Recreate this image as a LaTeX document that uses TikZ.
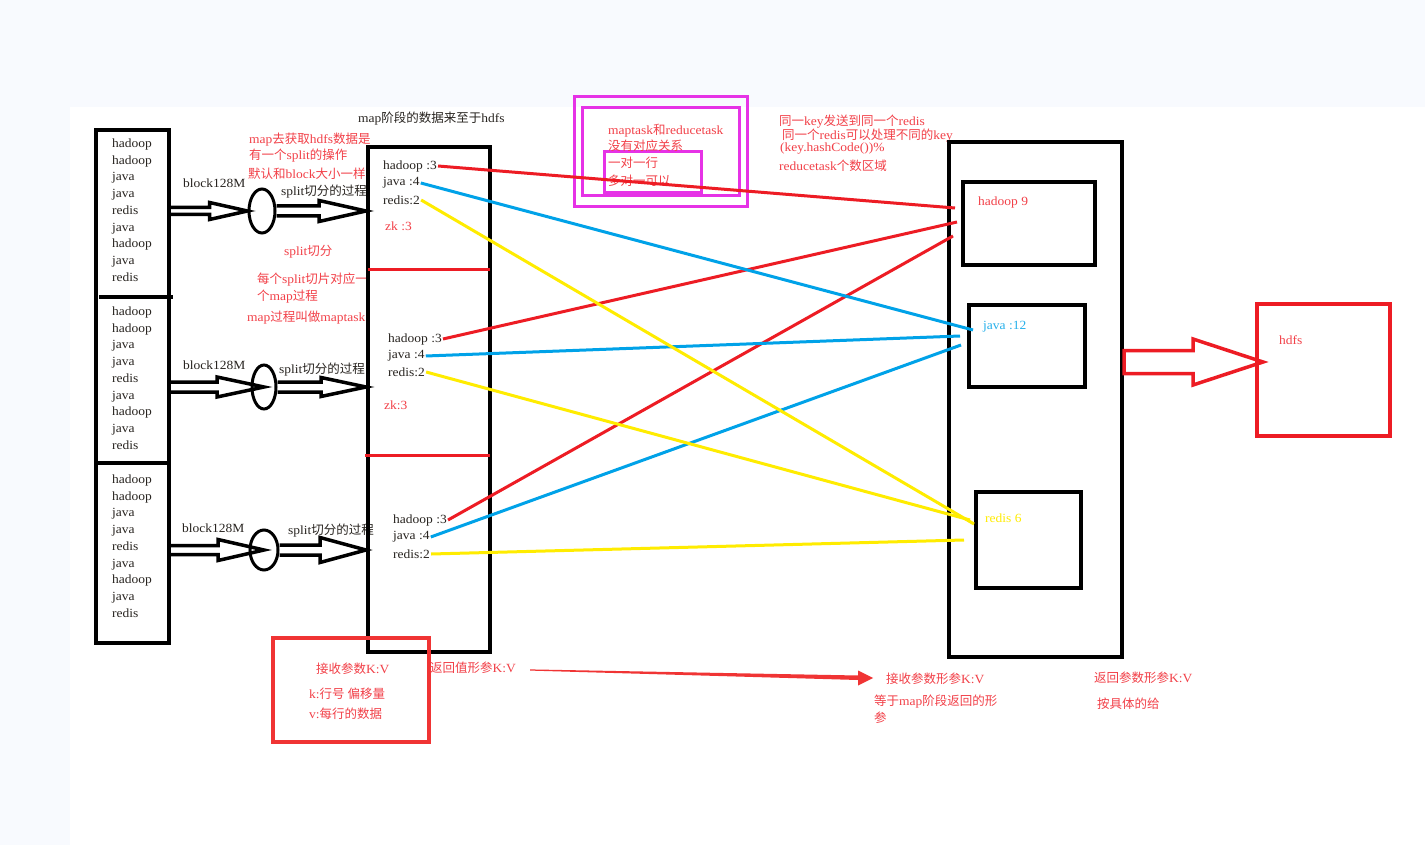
\documentclass[tikz,border=0pt]{standalone}
\usepackage{fontspec}
\setmainfont[FakeStretch=1.08]{Liberation Serif}
\newfontfamily\cjkfont{Noto Sans CJK SC}
\usetikzlibrary{calc,positioning,shapes.geometric}

% Han characters are set in the CJK family, the rest in the main font
\newXeTeXintercharclass\cjkclass
\newcount\cjkcode
\cjkcode="4E00
\loop
  \XeTeXcharclass\cjkcode=\cjkclass
  \ifnum\cjkcode<"9FFF
  \advance\cjkcode by 1
\repeat
\XeTeXinterchartoks 0 \cjkclass = {\cjkfont}
\XeTeXinterchartoks 4095 \cjkclass = {\cjkfont}
\XeTeXinterchartoks \cjkclass 0 = {\rmfamily}
\XeTeXinterchartokenstate=1

\definecolor{bgtint}{RGB}{248,250,254}
\definecolor{notered}{RGB}{242,64,72}
\definecolor{linered}{RGB}{237,28,36}
\definecolor{lineblue}{RGB}{0,162,232}
\definecolor{lineyellow}{RGB}{255,236,0}
\definecolor{boxpink}{RGB}{230,50,230}
\definecolor{wordgray}{RGB}{40,36,32}
\definecolor{framered}{RGB}{240,52,52}

% open block arrow: start, tip, shaft half width, head half width, head length
\newcommand{\hollowarrow}[6][black]{%
  \draw[blockline,draw=#1] let \p1=#2, \p2=#3 in
    (\x1,\y1+#4) -- (\x2-#6,\y1+#4) -- (\x2-#6,\y1+#5) -- (\x2,\y1)
    -- (\x2-#6,\y1-#5) -- (\x2-#6,\y1-#4) -- (\x1,\y1-#4);}

\begin{document}
\begin{tikzpicture}[x=1pt,y=-1pt,
  txt/.style={anchor=west,inner sep=1pt,align=left,
    font=\fontsize{12.5}{16.75}\selectfont,text=wordgray},
  note/.style={txt,text=notered},
  boxline/.style={draw=black,line width=4pt,inner sep=0pt},
  blockline/.style={line width=3.5pt,line join=miter},
  wire/.style={line width=3pt},
  splitbox/.style={ellipse,draw,line width=3pt,inner sep=0pt}]
  \useasboundingbox (0,0) rectangle (1425,845);

  % Canvas
  \fill[bgtint] (0,0) rectangle (1425,845);
  \fill[white] (70,107) rectangle (1425,845);

  % hdfs blocks
  \node[txt] (list1) at (111,210) {hadoop\\hadoop\\java\\java\\redis\\java\\hadoop\\java\\redis};
  \node[txt] (list2) at (111,378) {hadoop\\hadoop\\java\\java\\redis\\java\\hadoop\\java\\redis};
  \node[txt] (list3) at (111,546) {hadoop\\hadoop\\java\\java\\redis\\java\\hadoop\\java\\redis};
  \node[boxline,minimum width=73,minimum height=513] (blocks) at (132.5,386.5) {};
  \draw[line width=4pt] (99,297) -- (173,297);
  \draw[line width=4pt] (96,463) -- (170,463);

  % Splits
  \node[splitbox,minimum width=26,minimum height=44] (split1) at (262,211) {};
  \node[splitbox,minimum width=24,minimum height=44] (split2) at (264,387) {};
  \node[splitbox,minimum width=28,minimum height=40] (split3) at (264,550) {};
  \node[txt] (blk1) at (182,183) {block128M};
  \node[txt] (blk2) at (182,365) {block128M};
  \node[txt] (blk3) at (181,528) {block128M};
  \node[txt] (cut1) at (280,192) {split切分的过程};
  \node[txt] (cut2) at (278,370) {split切分的过程};
  \node[txt] (cut3) at (287,531) {split切分的过程};

  % Notes on the split
  \node[txt] (maptitle) at (357,119) {map阶段的数据来至于hdfs};
  \node[note] (n1) at (248,140) {map去获取hdfs数据是};
  \node[note] (n2) at (248,156) {有一个split的操作};
  \node[note] (n3) at (247,174) {默认和block大小一样};
  \node[note] (n4) at (283,252) {split切分};
  \node[note] (n5) at (256,280) {每个split切片对应一};
  \node[note] (n6) at (256,297) {个map过程};
  \node[note] (n7) at (246,318) {map过程叫做maptask};

  % Map tasks
  \node[txt] (h1) at (382,166) {hadoop :3};
  \node[txt] (j1) at (382,183) {java :4};
  \node[txt] (r1) at (382,200) {redis:2};
  \node[note] (zk1) at (384,226) {zk :3};
  \node[txt] (h2) at (387,339) {hadoop :3};
  \node[txt] (j2) at (387,356) {java :4};
  \node[txt] (r2) at (387,372) {redis:2};
  \node[note] (zk2) at (383,405) {zk:3};
  \node[txt] (h3) at (392,520) {hadoop :3};
  \node[txt] (j3) at (392,537) {java :4};
  \node[txt] (r3) at (392,554) {redis:2};
  \node[boxline,minimum width=122,minimum height=505] (mapbox) at (429,399.5) {};
  \draw[wire,linered] (368,270) -- (490,270);
  \draw[wire,linered] (365,455) -- (490,455);

  % Block arrows
  \hollowarrow{(blocks.east |- split1)}{(split1.west)}{3.5pt}{8.5pt}{38pt}
  \hollowarrow{(split1.east)}{(mapbox.west |- split1)}{5pt}{10.5pt}{47pt}
  \hollowarrow{(blocks.east |- split2)}{(split2.center)}{5pt}{10pt}{47pt}
  \hollowarrow{(split2.east)}{(mapbox.west |- split2)}{5pt}{9.5pt}{45pt}
  \hollowarrow{(blocks.east |- split3)}{(split3.center)}{4.5pt}{10.5pt}{46pt}
  \hollowarrow{(split3.east)}{(mapbox.west |- split3)}{5pt}{12.5pt}{46pt}

  % maptask / reducetask note
  \draw[boxpink,line width=3pt] (574,97) rectangle (747,207);
  \draw[boxpink,line width=3pt] (582,108) rectangle (739,196);
  \draw[boxpink,line width=3pt] (604,152) rectangle (701,193);
  \node[note] (m1) at (607,131) {maptask和reducetask};
  \node[note] (m2) at (607,146) {没有对应关系};
  \node[note] (m3) at (607,163) {一对一行};
  \node[note] (m4) at (607,181) {多对一可以};
  \node[note] (k1) at (778,122) {同一key发送到同一个redis};
  \node[note] (k2) at (781,136) {同一个redis可以处理不同的key};
  \node[note] (k3) at (779,149) {(key.hashCode())\%};
  \node[note] (k4) at (778,166) {reducetask个数区域};

  % Reduce tasks
  \node[boxline,minimum width=173,minimum height=515] (reducebox) at (1035.5,399.5) {};
  \node[boxline,minimum width=132,minimum height=83] (hbox) at (1029,223.5) {};
  \node[boxline,minimum width=116,minimum height=82] (jbox) at (1027,346) {};
  \node[boxline,minimum width=105,minimum height=96] (rbox) at (1028.5,540) {};
  \node[note] (hsum) at (977,202) {hadoop 9};
  \node[txt,text=lineblue!85] (jsum) at (982,327) {java :12};
  \node[txt,text=lineyellow] (rsum) at (984,518) {redis 6};
  \coordinate (he1) at (955,208);
  \coordinate (he2) at (957,222);
  \coordinate (he3) at (953,236);
  \coordinate (je1) at (973,330);
  \coordinate (je2) at (960,336);
  \coordinate (je3) at (961,345);
  \coordinate (re1) at (974,524);
  \coordinate (re2) at (970,520);
  \coordinate (re3) at (964,540);

  % Shuffle
  \draw[wire,linered] (h1.east) -- (he1);
  \draw[wire,linered] (h2.east) -- (he2);
  \draw[wire,linered] (h3.east) -- (he3);
  \draw[wire,lineblue] (j1.east) -- (je1);
  \draw[wire,lineblue] (j2.east) -- (je2);
  \draw[wire,lineblue] (j3.east) -- (je3);
  \draw[wire,lineyellow] (r1.east) -- (re1);
  \draw[wire,lineyellow] (r2.east) -- (re2);
  \draw[wire,lineyellow] (r3.east) -- (re3);

  % Output
  \node[draw=linered,line width=4pt,minimum width=133,minimum height=132,inner sep=0pt] (hdfs) at (1323.5,370) {};
  \node[note] (hdfslbl) at (1278,340) {hdfs};
  \coordinate (outtip) at (1263,362);
  \draw[blockline,draw=linered] let \p1=(reducebox.east |- outtip), \p2=(outtip) in
    (\x1,\y1+11.5pt) -- (\x2-70pt,\y1+11.5pt) -- (\x2-70pt,\y1+23pt) -- (\p2)
    -- (\x2-70pt,\y1-23pt) -- (\x2-70pt,\y1-11.5pt) -- (\x1,\y1-11.5pt) -- cycle;

  % Parameters
  \draw[framered,line width=3.5pt] (273,638) rectangle (429,742);
  \node[note] (in1) at (315,669) {接收参数K:V};
  \node[note] (kline) at (308,694) {k:行号 偏移量};
  \node[note] (vline) at (308,714) {v:每行的数据};
  \node[note] (out1) at (429,668) {返回值形参K:V};
  \node[note] (in2) at (885,679) {接收参数形参K:V};
  \node[note] (same1) at (873,702) {等于map阶段返回的形};
  \node[note] (same2) at (873,718) {参};
  \node[note] (out2) at (1093,678) {返回参数形参K:V};
  \node[note] (give) at (1096,704) {按具体的给};
  \fill[framered] let \p1=($(out1.east)+(13,2)$), \p2=($(in2.west)+(-12,-1)$) in
    (\x1,\y1+0.6pt) -- (\x2-15pt,\y2+2.5pt) -- (\x2-15pt,\y2+7.5pt) -- (\p2)
    -- (\x2-15pt,\y2-7.5pt) -- (\x2-15pt,\y2-2pt) -- (\x1,\y1-0.6pt) -- cycle;
\end{tikzpicture}
\end{document}
